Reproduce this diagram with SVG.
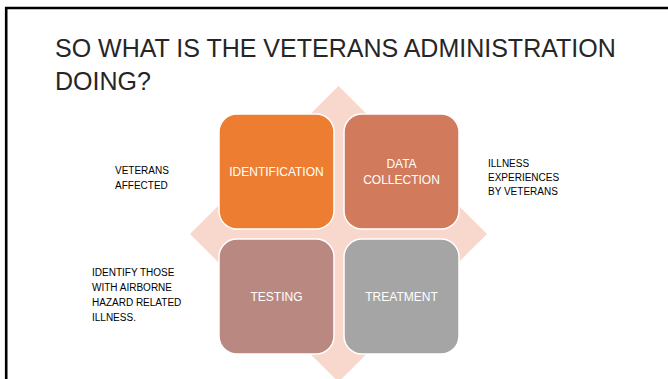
<svg xmlns="http://www.w3.org/2000/svg" width="668" height="379" viewBox="0 0 668 379">
<style>
.box{stroke:#fff;stroke-width:1.5}
.lbl{font-family:"Liberation Sans",Arial,sans-serif;font-size:12px;fill:#fff;text-anchor:middle}
.side{font-family:"Liberation Sans",Arial,sans-serif;font-size:10px;fill:#000}
.title{font-family:"Liberation Sans",Arial,sans-serif;font-size:25px;fill:#262626}
</style>
<rect x="0" y="0" width="668" height="379" fill="#fff"/>
<path d="M6.2 379 V8 H668" fill="none" stroke="#000" stroke-width="2.6"/>
<text class="title" x="55" y="57">SO WHAT IS THE VETERANS ADMINISTRATION</text>
<text class="title" x="55" y="90">DOING?</text>
<polygon points="338.5,86 487,234 338.5,382 190,234" fill="#F8D7CC"/>
<g id="identification">
<rect class="box" x="219" y="114" width="115" height="115" rx="18" fill="#ED7D31"/>
<text class="lbl" x="276.5" y="176">IDENTIFICATION</text>
</g>
<g id="data-collection">
<rect class="box" x="344" y="114" width="115" height="115" rx="18" fill="#D27A5C"/>
<text class="lbl" x="401.5" y="168">DATA</text>
<text class="lbl" x="401.5" y="184">COLLECTION</text>
</g>
<g id="testing">
<rect class="box" x="219" y="239" width="115" height="115" rx="18" fill="#B98981"/>
<text class="lbl" x="276.5" y="301">TESTING</text>
</g>
<g id="treatment">
<rect class="box" x="344" y="239" width="115" height="115" rx="18" fill="#A5A5A5"/>
<text class="lbl" x="401.5" y="301">TREATMENT</text>
</g>
<g id="connectors"></g>
<text class="side" x="115" y="174">VETERANS</text>
<text class="side" x="115" y="189">AFFECTED</text>
<text class="side" x="488" y="167">ILLNESS</text>
<text class="side" x="488" y="181">EXPERIENCES</text>
<text class="side" x="488" y="195">BY VETERANS</text>
<text class="side" x="92" y="276">IDENTIFY THOSE</text>
<text class="side" x="92" y="291">WITH AIRBORNE</text>
<text class="side" x="92" y="306">HAZARD RELATED</text>
<text class="side" x="92" y="321">ILLNESS.</text>
</svg>
